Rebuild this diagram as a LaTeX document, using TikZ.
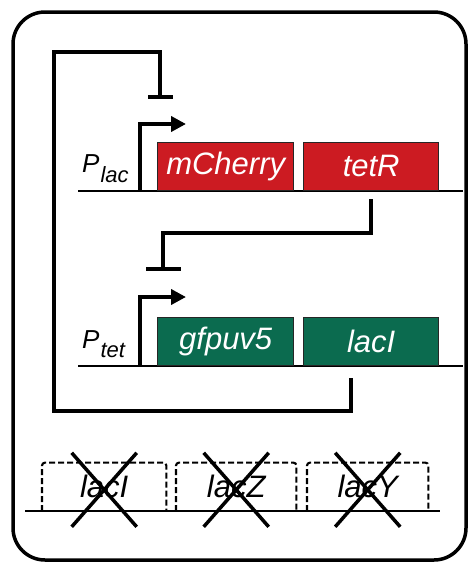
\documentclass[tikz,border=0pt]{standalone}
\usepackage{fontspec}
\setmainfont{Liberation Sans}
\usetikzlibrary{arrows.meta}
\definecolor{genered}{HTML}{CC1B22}
\definecolor{genegreen}{HTML}{0B6B4F}
\begin{document}
\begin{tikzpicture}[x=1pt,y=-1pt,
  thickline/.style={line width=3.8pt},
  dnaline/.style={line width=2.3pt},
  genebox/.style={draw=black!85, line width=1.4pt, minimum height=48pt, inner sep=0pt,
    anchor=south west, text=white, font=\fontsize{31}{36}\selectfont\itshape},
  dashbox/.style={minimum height=48pt, inner sep=0pt, anchor=south west,
    font=\fontsize{31}{36}\selectfont\itshape},
  dashside/.style={line width=2.1pt, dash pattern=on 6pt off 3pt, rounded corners=3pt},
  crossline/.style={line width=3.5pt},
  promoter/.style={thickline, -{Triangle[length=15pt,width=15pt]}},
  repress/.style={thickline, -{Bar[width=#1]}},
  plabel/.style={anchor=base west, inner sep=0pt}
]
\useasboundingbox (0,0) rectangle (468,562);
% outer frame
\draw[line width=3.5pt, rounded corners=32pt] (13,12) rectangle (466,560);

% ---------- lac operon (top) ----------
\coordinate (dnaAl) at (78,191);
\coordinate (dnaAr) at (463,191);
\draw[dnaline] (dnaAl) -- (dnaAr);
\node[genebox, fill=genered, minimum width=136pt] (mch) at (157,191) {mCherry};
\node[genebox, fill=genered, minimum width=135pt] (tetr) at (303,191) {tetR};
\coordinate (placstart) at (140,191);
\coordinate (placend) at (186,124);
\draw[promoter] (placstart) |- (placend);
\node[plabel] (plac) at (82,172) {\fontsize{26}{30}\selectfont\itshape P\kern1pt\raisebox{-10pt}{\fontsize{22}{26}\selectfont lac}};

% ---------- tet operon (middle) ----------
\coordinate (dnaBl) at (78,366);
\coordinate (dnaBr) at (463,366);
\draw[dnaline] (dnaBl) -- (dnaBr);
\node[genebox, fill=genegreen, minimum width=136pt] (gfp) at (157,366) {gfpuv5};
\node[genebox, fill=genegreen, minimum width=135pt] (laci) at (303,366) {lacI};
\coordinate (ptetstart) at (140,366);
\coordinate (ptetend) at (186,297);
\draw[promoter] (ptetstart) |- (ptetend);
\node[plabel] (ptet) at (82,348) {\fontsize{26}{30}\selectfont\itshape P\kern1pt\raisebox{-9pt}{\fontsize{22}{26}\selectfont tet}};

% ---------- repression connectors ----------
\coordinate (barA) at (160,99);
\coordinate (barB) at (163,271);
\draw[repress=25pt] ([xshift=-20pt,yshift=-12pt]laci.south) -- ++(0,33) -| (54,52) -| (barA);
\draw[repress=35pt] ([yshift=-8pt]tetr.south) -- ++(0,34) -| (barB);

% ---------- deleted genes (bottom) ----------
\coordinate (dnaCl) at (25,511);
\coordinate (dnaCr) at (440,511);
\draw[dnaline] (dnaCl) -- (dnaCr);
\node[dashbox, minimum width=124pt] (b1) at (42,511) {lacI};
\node[dashbox, minimum width=120pt] (b2) at (176,511) {lacZ};
\node[dashbox, minimum width=121pt] (b3) at (307,511) {lacY};
\foreach \b in {b1,b2,b3}{
  \draw[dashside] (\b.south west) -- (\b.north west) -- (\b.north east) -- (\b.south east);
  \coordinate (\b x) at ([yshift=-3pt]\b.center);
  \draw[crossline] ([shift={(-32.5,-37)}]\b x) -- ([shift={(32.5,37)}]\b x);
  \draw[crossline] ([shift={(32.5,-37)}]\b x) -- ([shift={(-32.5,37)}]\b x);
}
\end{tikzpicture}
\end{document}
